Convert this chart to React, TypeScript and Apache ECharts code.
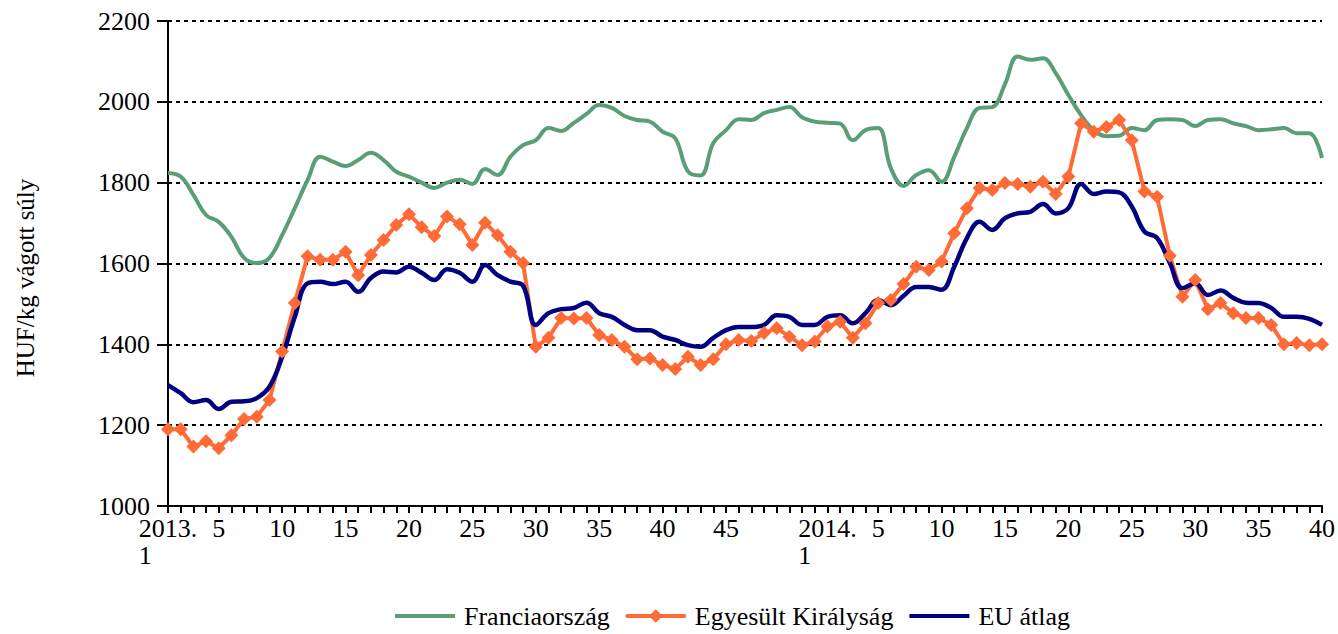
import React, { useEffect, useRef } from "react";
import * as echarts from "echarts";

// 2013 weeks 1-52, then 2014 weeks 1-40
const years = [2013, 2014];
const weeksPerYear = [52, 40];
const shownWeeks = [5, 10, 15, 20, 25, 30, 35, 40, 45];

const france = [1824,1815,1770,1720,1703,1666,1614,1601,1614,1670,1737,1806,1864,1852,1841,1856,1874,1856,1827,1815,1800,1787,1800,1807,1797,1834,1819,1864,1893,1905,1935,1928,1948,1970,1992,1985,1965,1955,1951,1926,1910,1828,1818,1898,1930,1957,1955,1972,1980,1987,1962,1951,1948,1946,1905,1930,1935,1836,1792,1819,1831,1802,1864,1935,1985,1987,2044,2112,2104,2108,2071,2017,1967,1930,1915,1916,1935,1930,1955,1957,1955,1940,1955,1957,1947,1940,1930,1932,1935,1922,1922,1861];
const uk = [1190,1190,1147,1160,1143,1175,1215,1221,1262,1382,1502,1618,1609,1609,1629,1571,1621,1658,1695,1722,1690,1668,1716,1697,1646,1701,1670,1629,1601,1394,1416,1465,1464,1465,1423,1411,1394,1363,1365,1349,1339,1369,1349,1363,1400,1411,1408,1428,1440,1419,1398,1407,1444,1456,1416,1452,1502,1510,1549,1592,1584,1605,1675,1737,1787,1782,1799,1797,1790,1802,1772,1815,1947,1926,1938,1955,1905,1778,1765,1619,1518,1559,1487,1502,1477,1465,1465,1448,1400,1403,1398,1400];
const eu = [1299,1279,1257,1262,1240,1258,1259,1267,1295,1369,1468,1551,1555,1549,1555,1530,1564,1580,1578,1592,1577,1559,1586,1577,1555,1596,1571,1555,1545,1448,1477,1487,1490,1503,1477,1468,1448,1435,1435,1419,1411,1398,1394,1416,1435,1443,1443,1448,1472,1468,1448,1448,1468,1472,1452,1477,1510,1497,1520,1542,1542,1535,1592,1663,1703,1683,1712,1724,1728,1747,1724,1737,1797,1772,1778,1776,1741,1679,1663,1601,1539,1551,1522,1533,1515,1503,1502,1490,1468,1468,1463,1448];

const seriesNames = ["Franciaország", "Egyesült Királyság", "EU átlag"];
const yTitle = "HUF/kg vágott súly";

const categories: string[] = [];
years.forEach((y, i) => {
  for (let w = 1; w <= weeksPerYear[i]; w++) categories.push(`${y}.${w}`);
});

const FONT = "Liberation Serif";
const FS = 26;

export default function App() {
  const ref = useRef<HTMLDivElement>(null);
  useEffect(() => {
    if (!ref.current) return;
    const chart = echarts.init(ref.current, null, { renderer: "svg" });
    chart.setOption({
      animation: false,
      backgroundColor: "#fff",
      textStyle: { fontFamily: FONT, color: "#000" },
      grid: { left: 168, right: 13, top: 21, bottom: 128, containLabel: false },
      legend: {
        left: 393,
        top: 603,
        padding: 0,
        itemWidth: 60,
        itemHeight: 17,
        itemGap: 14,
        lineStyle: { width: 4 },
        textStyle: { fontFamily: FONT, fontSize: FS, color: "#000", padding: [0, 0, 0, 4] },
        data: [
          { name: seriesNames[0], itemStyle: { opacity: 0 } },
          { name: seriesNames[1] },
          { name: seriesNames[2], itemStyle: { opacity: 0 } },
        ],
      },
      graphic: [
        {
          type: "text",
          x: 25,
          y: 278,
          rotation: Math.PI / 2,
          style: {
            text: yTitle,
            fontFamily: FONT,
            fontSize: 25,
            fill: "#000",
            align: "center",
            verticalAlign: "middle",
          },
        },
      ],
      xAxis: {
        type: "category",
        data: categories,
        boundaryGap: false,
        axisLine: { lineStyle: { color: "#000", width: 2 } },
        axisTick: { interval: 0, length: 7, lineStyle: { color: "#000", width: 2 } },
        axisLabel: {
          interval: 0,
          margin: 9,
          fontFamily: FONT,
          fontSize: FS,
          color: "#000",
          lineHeight: 27,
          formatter: (v: string) => {
            const [y, w] = v.split(".");
            const wk = Number(w);
            if (wk === 1) return `{yr|${y}.}\n{wk|1}`;
            if (shownWeeks.includes(wk)) return String(wk);
            return "";
          },
          rich: {
            yr: { fontFamily: FONT, fontSize: FS, color: "#000", lineHeight: 27 },
            wk: { fontFamily: FONT, fontSize: FS, color: "#000", lineHeight: 27, align: "left" },
          },
        },
        splitLine: { show: false },
      },
      yAxis: {
        type: "value",
        min: 1000,
        max: 2200,
        interval: 200,
        axisLine: { show: true, lineStyle: { color: "#000", width: 2 } },
        axisTick: { show: true, length: 11, lineStyle: { color: "#000", width: 2 } },
        axisLabel: {
          margin: 18,
          fontFamily: FONT,
          fontSize: FS,
          color: "#000",
          formatter: (v: number) => String(v),
        },
        splitLine: { show: true, lineStyle: { color: "#000", width: 2, type: [4, 4] } },
      },
      series: [
        {
          name: seriesNames[0],
          type: "line",
          data: france,
          smooth: 0.4,
          symbol: "none",
          lineStyle: { color: "#5a9e78", width: 4 },
          itemStyle: { color: "#5a9e78" },
        },
        {
          name: seriesNames[1],
          type: "line",
          data: uk,
          smooth: false,
          symbol: "diamond",
          symbolSize: 14,
          lineStyle: { color: "#ff6b37", width: 4 },
          itemStyle: { color: "#ff6b37" },
        },
        {
          name: seriesNames[2],
          type: "line",
          data: eu,
          smooth: 0.4,
          symbol: "none",
          lineStyle: { color: "#000080", width: 4.5 },
          itemStyle: { color: "#000080" },
        },
      ],
    });
    return () => chart.dispose();
  }, []);
  return (
    <div
      ref={ref}
      style={{ position: "fixed", left: 0, top: 0, width: 1338, height: 634 }}
    />
  );
}
